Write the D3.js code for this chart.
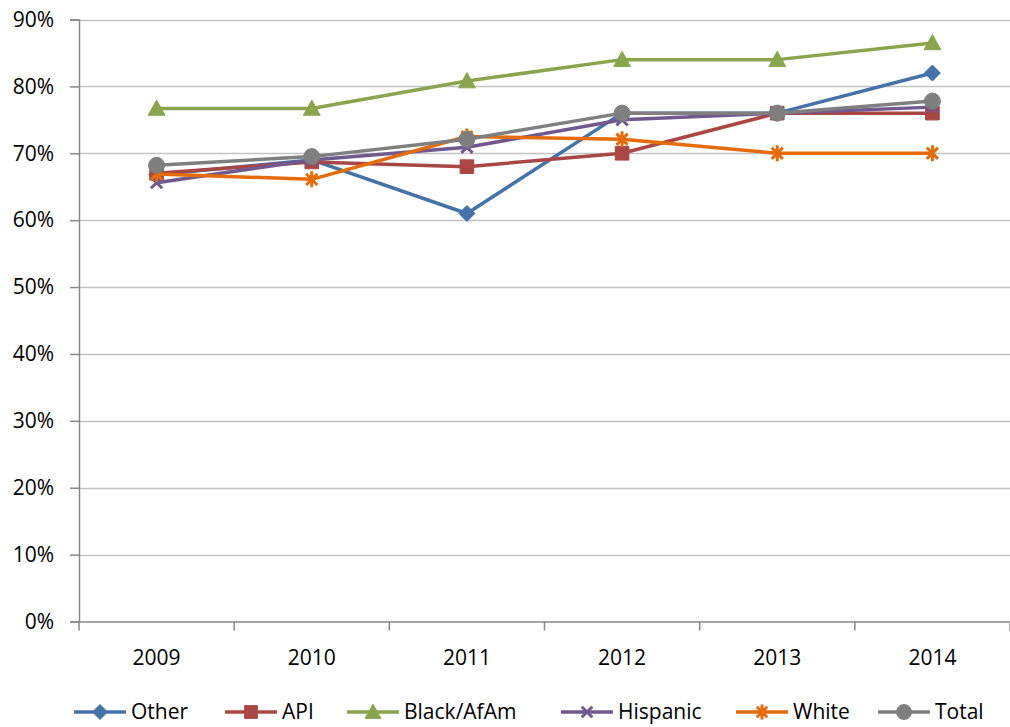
<!DOCTYPE html>
<html>
<head>
<meta charset="utf-8">
<script src="https://cdn.jsdelivr.net/npm/d3@7"></script>
<style>
  html, body { margin: 0; padding: 0; background: #fff; }
  svg { display: block; }
  text { font-family: "Open Sans", sans-serif; fill: #000; }
</style>
</head>
<body>
<svg id="chart" width="1010" height="727"></svg>
<script>
// Years on the category axis
const years = ["2009", "2010", "2011", "2012", "2013", "2014"];

// Share per group and year (fractions)
const other    = [0.668, 0.690, 0.610, 0.760, 0.760, 0.820];
const api      = [0.670, 0.687, 0.680, 0.700, 0.760, 0.760];
const black    = [0.767, 0.767, 0.808, 0.840, 0.840, 0.865];
const hispanic = [0.656, 0.690, 0.709, 0.750, 0.760, 0.769];
const white    = [0.669, 0.661, 0.725, 0.721, 0.700, 0.700];
const total    = [0.682, 0.695, 0.721, 0.760, 0.760, 0.778];

// Y axis ticks
const yTicks = [0, 0.1, 0.2, 0.3, 0.4, 0.5, 0.6, 0.7, 0.8, 0.9];

const seriesNames = ["Other", "API", "Black/AfAm", "Hispanic", "White", "Total"];
const seriesValues = [other, api, black, hispanic, white, total];
const colors = ["#4572A7", "#AA4643", "#89A54E", "#71588F", "#E46C0A", "#7F7F7F"];
const markers = ["diamond", "square", "triangle", "cross", "star", "circle"];

const svg = d3.select("#chart");
const plotLeft = 79, plotRight = 1010, plotTop = 19.5, plotBottom = 621.5;

const x = d3.scaleBand().domain(years).range([plotLeft, plotRight]);
const y = d3.scaleLinear().domain([0, 0.9]).range([plotBottom, plotTop]);

// Horizontal gridlines
svg.append("g").selectAll("line")
  .data(yTicks.filter(d => d > 0))
  .join("line")
  .attr("x1", plotLeft).attr("x2", plotRight)
  .attr("y1", d => Math.round(y(d)) + 0.5).attr("y2", d => Math.round(y(d)) + 0.5)
  .attr("stroke", "#c4c4c4").attr("stroke-width", 1.5);

// Y axis
const yAxis = svg.append("g")
  .attr("transform", `translate(${plotLeft},0)`)
  .call(d3.axisLeft(y).tickValues(yTicks).tickFormat(d3.format(".0%")).tickSize(9).tickPadding(16));
yAxis.select(".domain").attr("stroke", "#888").attr("stroke-width", 1.5);
yAxis.selectAll(".tick line").attr("stroke", "#888").attr("stroke-width", 1.5);
yAxis.selectAll(".tick text").attr("font-size", 21).attr("fill", "#000")
  .style("font-family", "'Open Sans', sans-serif");

// X axis with ticks at category boundaries
const xg = svg.append("g");
xg.append("line").attr("x1", plotLeft).attr("x2", plotRight)
  .attr("y1", plotBottom + 0.5).attr("y2", plotBottom + 0.5)
  .attr("stroke", "#888").attr("stroke-width", 1.5);
const bounds = years.map(d => x(d)).concat([plotRight]);
xg.selectAll("line.tk").data(bounds).join("line").attr("class", "tk")
  .attr("x1", d => d).attr("x2", d => d)
  .attr("y1", plotBottom).attr("y2", plotBottom + 9)
  .attr("stroke", "#888").attr("stroke-width", 1.5);
xg.selectAll("text").data(years).join("text")
  .attr("x", d => x(d) + x.bandwidth() / 2)
  .attr("y", 665)
  .attr("text-anchor", "middle")
  .attr("font-size", 21)
  .text(d => d);

// Marker path generators
function markerPath(type, s) {
  switch (type) {
    case "diamond": return `M0,${-s}L${s},0L0,${s}L${-s},0Z`;
    case "square": { const h = s * 0.85; return `M${-h},${-h}H${h}V${h}H${-h}Z`; }
    case "triangle": return `M0,${-s * 1.05}L${s * 1.05},${s * 0.85}L${-s * 1.05},${s * 0.85}Z`;
    case "circle": return d3.symbol(d3.symbolCircle, Math.PI * s * s)();
    case "cross": { const h = s * 0.7; return `M${-h},${-h}L${h},${h}M${h},${-h}L${-h},${h}`; }
    case "star": { const h = s * 0.7; return `M${-h},${-h}L${h},${h}M${h},${-h}L${-h},${h}M0,${-s}L0,${s}`; }
  }
}

const line = d3.line()
  .x((d, i) => x(years[i]) + x.bandwidth() / 2)
  .y(d => y(d));

seriesValues.forEach((vals, k) => {
  const g = svg.append("g");
  g.append("path").datum(vals)
    .attr("d", line)
    .attr("fill", "none")
    .attr("stroke", colors[k])
    .attr("stroke-width", 3.5)
    .attr("stroke-linejoin", "round");
  const stroked = markers[k] === "cross" || markers[k] === "star";
  g.selectAll("path.mk").data(vals).join("path").attr("class", "mk")
    .attr("transform", (d, i) => `translate(${x(years[i]) + x.bandwidth() / 2},${y(d)})`)
    .attr("d", markerPath(markers[k], 8))
    .attr("fill", stroked ? "none" : colors[k])
    .attr("stroke", colors[k])
    .attr("stroke-width", stroked ? 3 : 1)
    .attr("stroke-linejoin", "round");
});

// Legend
const legendX = [74, 225, 347, 561, 736, 878];
const legendY = 712;
const lg = svg.append("g");
seriesNames.forEach((name, k) => {
  const g = lg.append("g").attr("transform", `translate(${legendX[k]},${legendY})`);
  g.append("line").attr("x1", 0).attr("x2", 52).attr("y1", 0).attr("y2", 0)
    .attr("stroke", colors[k]).attr("stroke-width", 3.5);
  const stroked = markers[k] === "cross" || markers[k] === "star";
  g.append("path").attr("transform", "translate(26,0)")
    .attr("d", markerPath(markers[k], 7.5))
    .attr("fill", stroked ? "none" : colors[k])
    .attr("stroke", colors[k])
    .attr("stroke-width", stroked ? 3 : 1);
  g.append("text").attr("x", 57).attr("y", 0).attr("dy", "0.35em")
    .attr("font-size", 21).text(name);
});
</script>
</body>
</html>
